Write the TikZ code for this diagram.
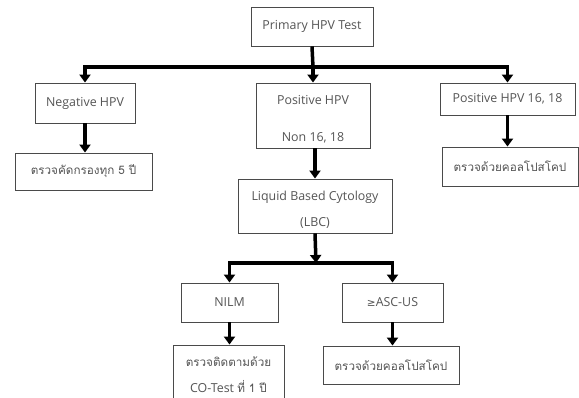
\documentclass[tikz,border=0pt]{standalone}
\usepackage{fontspec}
\setmainfont{Open Sans}
\newfontfamily\thaifont[Script=Thai]{Loma}
\newfontfamily\symfont{DejaVu Sans}
\usetikzlibrary{arrows.meta}
\definecolor{boxline}{HTML}{4A4A4A}
\definecolor{txt}{HTML}{555555}
\tikzset{
  box/.style={draw=boxline, line width=0.9pt, text=txt, inner sep=0pt, align=center,
    font=\fontsize{12.4}{14}\selectfont},
  thaibox/.style={box, font=\thaifont\fontsize{11.7}{14}\selectfont},
  conn/.style={line width=3.5pt, draw=black},
  arr/.style={conn, -{Triangle[length=8pt,width=11pt]}}
}
\begin{document}
\begin{tikzpicture}[x=1pt,y=-1pt]
\useasboundingbox (0,0) rectangle (579,397);
\clip (0,0) rectangle (579,397);
\fill[white] (0,0) rectangle (579,397);

\node[box, minimum width=122pt, minimum height=39pt] (prim) at (312,26.5) {Primary HPV Test};
\node[box, minimum width=100pt, minimum height=40pt] (neg) at (85,103) {Negative HPV};
\node[box, minimum width=114pt, minimum height=65pt, font=\fontsize{12.4}{37}\selectfont] (pos) at (313,115.5) {\rule{0pt}{16pt}Positive HPV\\Non 16, 18};
\node[box, minimum width=135pt, minimum height=32pt] (p1618) at (507.5,99) {Positive HPV 16, 18};
\node[thaibox, minimum width=137pt, minimum height=37pt] (scr) at (83.5,171.5) {ตรวจคัดกรองทุก 5 ปี};
\node[thaibox, minimum width=136pt, minimum height=39pt] (colpoA) at (510,166.5) {ตรวจด้วยคอลโปสโคป};
\node[box, minimum width=154pt, minimum height=54pt, font=\fontsize{12.4}{26}\selectfont] (lbc) at (315,206) {\rule{0pt}{16pt}Liquid Based Cytology\\(LBC)};
\node[box, minimum width=97pt, minimum height=39pt] (nilm) at (229.5,302.5) {NILM};
\node[box, minimum width=101pt, minimum height=39pt] (asc) at (392.5,302.5) {{\symfont\fontsize{10.5}{12}\selectfont ≥}ASC-US};
\node[box, minimum width=111pt, minimum height=58pt, font=\fontsize{12.4}{26}\selectfont] (co) at (228.5,374) {\rule{0pt}{11pt}{\thaifont\fontsize{11.7}{14}\selectfont ตรวจติดตามด้วย}\\CO-Test {\thaifont\fontsize{11.7}{14}\selectfont ที่ 1 ปี}};
\node[thaibox, minimum width=136pt, minimum height=38pt] (colpoB) at (391,365) {ตรวจด้วยคอลโปสโคป};

\coordinate (j1) at (313,67);
\coordinate (j2) at (316,263);

\draw[conn] (prim.south) -- (j1);
\draw[arr] (j1) -| (neg.north);
\draw[arr] (j1) -- (pos.north);
\draw[arr] (j1) -| (p1618.north);
\draw[arr] (neg.south) -- (neg.south |- scr.north);
\draw[arr] (p1618.south) -- (p1618.south |- colpoA.north);
\draw[arr] (lbc.north |- pos.south) -- (lbc.north);
\draw[arr] (lbc.south) -- (j2);
\draw[arr] (j2) -| (nilm.north);
\draw[arr] (j2) -| (asc.north);
\draw[arr] (nilm.south) -- (nilm.south |- co.north);
\draw[arr] (asc.south) -- (asc.south |- colpoB.north);
\end{tikzpicture}
\end{document}
